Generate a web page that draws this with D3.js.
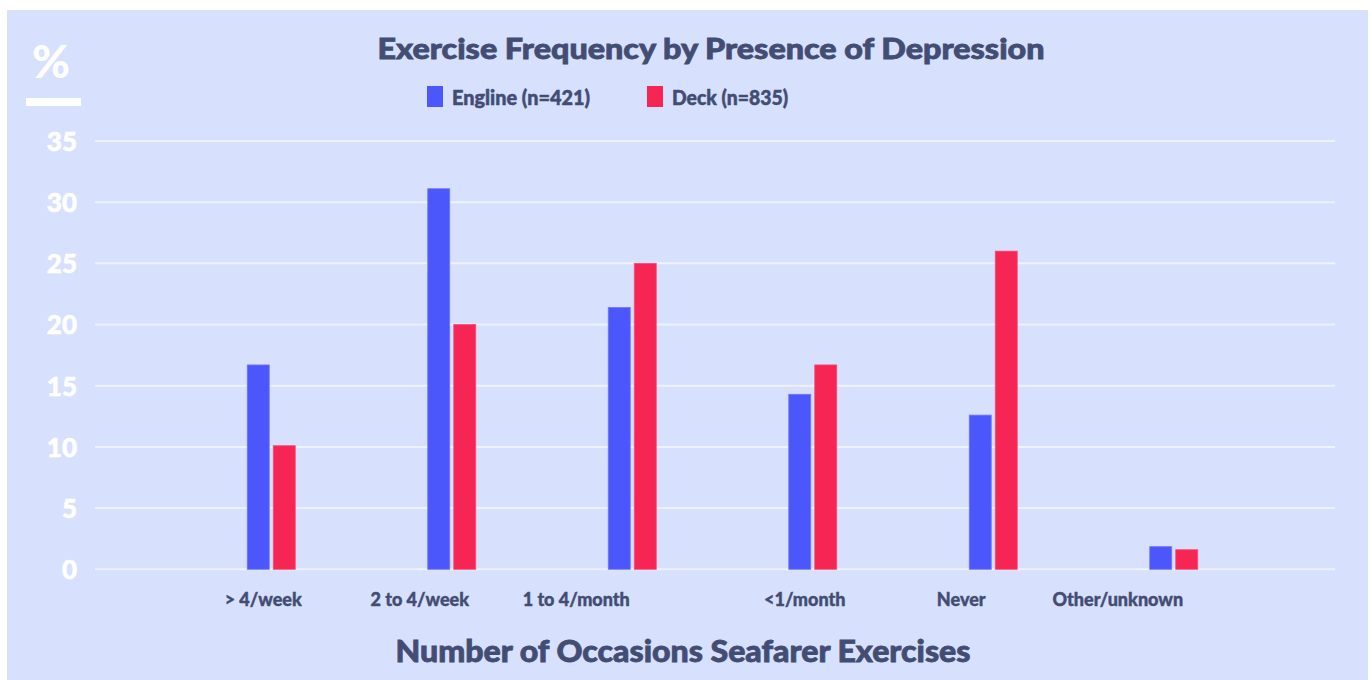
<!DOCTYPE html>
<html><head><meta charset="utf-8">
<script src="https://cdn.jsdelivr.net/npm/d3@7"></script>
<style>
html,body{margin:0;padding:0;background:#fff;}
svg{display:block;font-family:Lato,"Open Sans",sans-serif;}
</style></head>
<body>
<svg id="chart" width="1371" height="680"></svg>
<script>
const categories = ["> 4/week", "2 to 4/week", "1 to 4/month", "<1/month", "Never", "Other/unknown"];
const seriesNames = ["Engline (n=421)", "Deck (n=835)"];
const engine = [16.7, 31.1, 21.4, 14.3, 12.6, 1.85];
const deck = [10.1, 20.0, 25.0, 16.7, 26.0, 1.6];
const yTicks = [0, 5, 10, 15, 20, 25, 30, 35];
const title = "Exercise Frequency by Presence of Depression";
const xTitle = "Number of Occasions Seafarer Exercises";
const unitLabel = "%";

const colors = ["#4b57fb", "#f72553"];
const textColor = "#434d74";
const bg = "#d7e1fd";

const svg = d3.select("#chart");
svg.append("rect").attr("x", 7).attr("y", 10).attr("width", 1361).attr("height", 670).attr("fill", bg);

const y = d3.scaleLinear().domain([0, 35]).range([569.3, 141]);
const x0 = d3.scaleBand().domain(categories).range([181, 1264]);
const x1 = d3.scaleBand().domain(seriesNames).range([-24, 24]).paddingInner(0.1538);

// gridlines
svg.append("g").selectAll("line").data(yTicks).join("line")
  .attr("x1", 95).attr("x2", 1335)
  .attr("y1", d => y(d)).attr("y2", d => y(d))
  .attr("stroke", "#eef2fe").attr("stroke-width", 2);

// y axis labels
const yAxis = d3.axisLeft(y).tickValues(yTicks).tickSize(0).tickPadding(0);
const gy = svg.append("g").attr("transform", "translate(77,0)").call(yAxis);
gy.select(".domain").remove();
gy.selectAll("text").attr("fill", "#ffffff").attr("font-size", 26).attr("font-weight", 900)
  .attr("font-family", "Lato, sans-serif").attr("dy", "0.36em")
  .attr("stroke", "#ffffff").attr("stroke-width", 0.6);

// % label
svg.append("text").attr("x", 51).attr("y", 78).attr("text-anchor", "middle")
  .attr("font-size", 46).attr("font-weight", 900).attr("fill", "#ffffff").text(unitLabel);
svg.append("rect").attr("x", 26).attr("y", 98).attr("width", 55).attr("height", 8).attr("fill", "#ffffff");

// bars
const data = categories.map((c, i) => ({cat: c, vals: [engine[i], deck[i]]}));
const groups = svg.append("g").selectAll("g").data(data).join("g")
  .attr("transform", d => `translate(${x0(d.cat) + x0.bandwidth() / 2},0)`);
groups.selectAll("rect").data(d => d.vals.map((v, j) => ({s: seriesNames[j], v, j}))).join("rect")
  .attr("x", d => x1(d.s)).attr("width", x1.bandwidth())
  .attr("y", d => y(d.v)).attr("height", d => y(0) - y(d.v))
  .attr("fill", d => colors[d.j])
  .attr("stroke", d => d.j === 0 ? "#6f79fb" : "#f84d72").attr("stroke-width", 0.8);

// x labels
const xAxis = d3.axisBottom(x0).tickSize(0).tickPadding(0);
const gx = svg.append("g").attr("transform", "translate(0,606)").call(xAxis);
gx.select(".domain").remove();
gx.selectAll("text").attr("fill", textColor).attr("font-size", 18).attr("font-weight", 900)
  .attr("font-family", "Lato, sans-serif").attr("dy", 0)
  .attr("dx", (d, i) => -8 - 24 * (i % 3))
  .attr("stroke", textColor).attr("stroke-width", 0.4);

// x title
svg.append("text").attr("x", 683).attr("y", 662).attr("text-anchor", "middle")
  .attr("font-size", 30).attr("font-weight", 900).attr("fill", textColor)
  .attr("stroke", textColor).attr("stroke-width", 0.8)
  .attr("textLength", 575).attr("lengthAdjust", "spacingAndGlyphs").text(xTitle);

// title
svg.append("text").attr("x", 711).attr("y", 59).attr("text-anchor", "middle")
  .attr("font-size", 28).attr("font-weight", 900).attr("fill", textColor)
  .attr("stroke", textColor).attr("stroke-width", 0.8)
  .attr("textLength", 667).attr("lengthAdjust", "spacingAndGlyphs").text(title);

// legend
const legendX = [427, 647];
const legendW = [138, 116];
const lg = svg.append("g").selectAll("g").data(seriesNames).join("g")
  .attr("transform", (d, i) => `translate(${legendX[i]},0)`);
lg.append("rect").attr("x", 0).attr("y", 86).attr("width", 16).attr("height", 21)
  .attr("fill", (d, i) => colors[i]);
lg.append("text").attr("x", 25).attr("y", 105).attr("font-size", 20).attr("font-weight", 900)
  .attr("fill", textColor).attr("stroke", textColor).attr("stroke-width", 0.5)
  .attr("textLength", (d, i) => legendW[i])
  .attr("lengthAdjust", "spacingAndGlyphs").text(d => d);
</script>
</body></html>
